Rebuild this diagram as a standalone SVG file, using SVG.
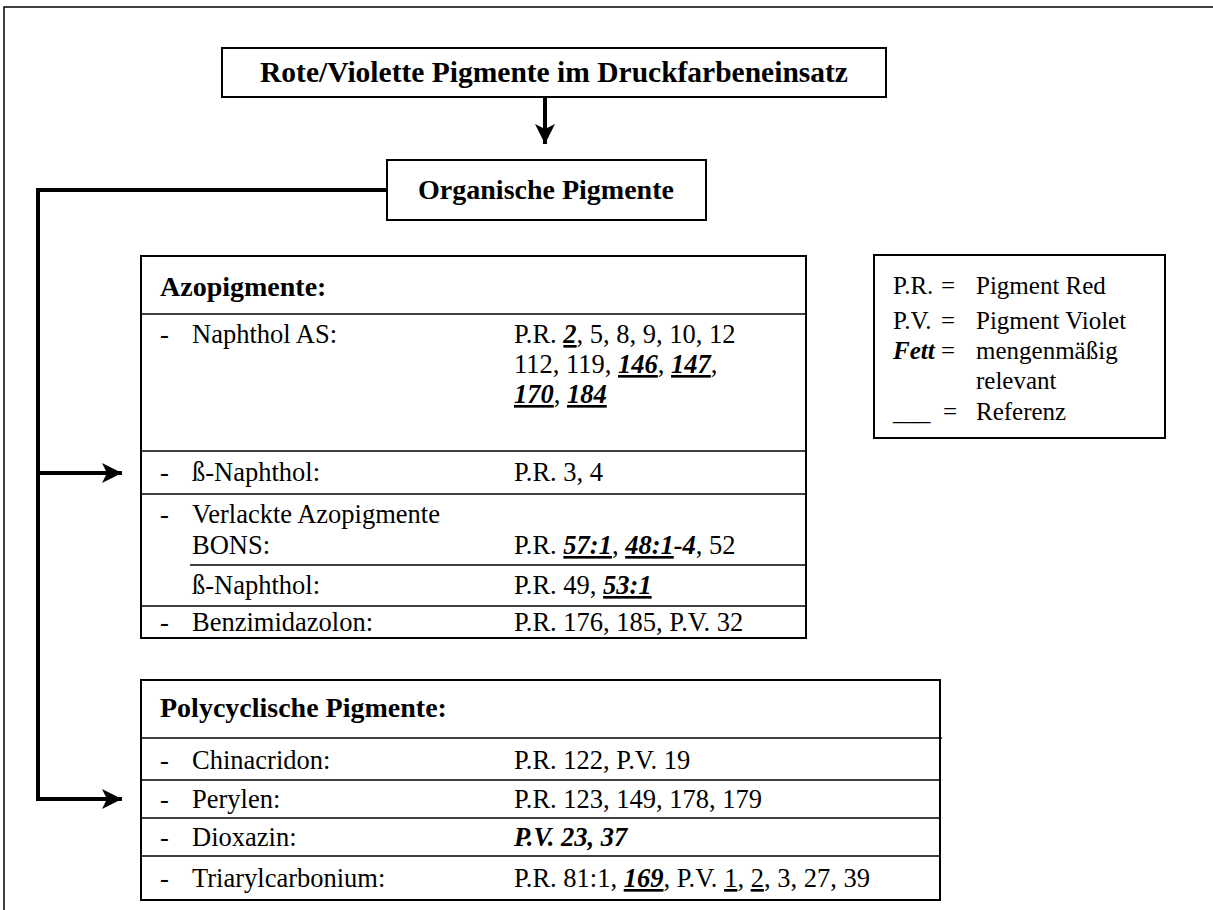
<svg xmlns="http://www.w3.org/2000/svg" width="1213" height="910" viewBox="0 0 1213 910">
  <style>
    .box { fill: #fff; stroke: #000; stroke-width: 2; }
    .rule { stroke: #000; stroke-width: 1.5; fill: none; }
    .link { stroke: #000; stroke-width: 4; fill: none; }
    text { font-family: "Liberation Serif", "Times New Roman", serif; fill: #000; }
    .t { font-size: 26.5px; }
    .h { font-size: 28px; font-weight: bold; }
    .title { font-size: 29.5px; font-weight: bold; }
    .lg { font-size: 25px; }
    .bi { font-weight: bold; font-style: italic; }
    .u { text-decoration: underline; }
  </style>
  <defs>
    <marker id="head" markerUnits="userSpaceOnUse" markerWidth="22" markerHeight="22" viewBox="-21 -11 22 22" refX="0" refY="0" orient="auto">
      <path d="M0,0 L-20,-10 L-15,0 L-20,10 Z" fill="#000"/>
    </marker>
  </defs>

  <rect width="1213" height="910" fill="#fff"/>

  <!-- page frame -->
  <path class="rule" d="M4,910 V7 H1213"/>

  <!-- connectors -->
  <g id="connectors">
    <path class="link" d="M545,97 V144" marker-end="url(#head)"/>
    <path class="link" d="M387,190 H38 V799 H122" marker-end="url(#head)"/>
    <path class="link" d="M38,473 H122" marker-end="url(#head)"/>
  </g>

  <!-- top heading -->
  <g id="root">
    <rect class="box" x="222" y="48" width="664" height="49"/>
    <text class="title" x="554" y="82" text-anchor="middle">Rote/Violette Pigmente im Druckfarbeneinsatz</text>
  </g>

  <g id="organic">
    <rect class="box" x="387" y="160" width="319" height="60"/>
    <text class="h" x="546" y="199" text-anchor="middle">Organische Pigmente</text>
  </g>

  <!-- azo pigment table -->
  <g id="azo">
    <rect class="box" x="141" y="256" width="665" height="382"/>
    <line class="rule" x1="141" y1="314" x2="806" y2="314"/>
    <line class="rule" x1="141" y1="451" x2="806" y2="451"/>
    <line class="rule" x1="141" y1="494" x2="806" y2="494"/>
    <line class="rule" x1="190" y1="565" x2="806" y2="565"/>
    <line class="rule" x1="141" y1="606" x2="806" y2="606"/>

    <text class="h" x="160" y="296">Azopigmente:</text>

    <text class="t" x="160" y="343">-</text>
    <text class="t" x="192" y="343">Naphthol AS:</text>
    <text class="t" x="514" y="343">P.R. <tspan class="bi u">2</tspan>, 5, 8, 9, 10, 12</text>
    <text class="t" x="514" y="373">112, 119, <tspan class="bi u">146</tspan>, <tspan class="bi u">147</tspan>,</text>
    <text class="t" x="514" y="403"><tspan class="bi u">170</tspan>, <tspan class="bi u">184</tspan></text>

    <text class="t" x="160" y="481">-</text>
    <text class="t" x="192" y="481">ß-Naphthol:</text>
    <text class="t" x="514" y="481">P.R. 3, 4</text>

    <text class="t" x="160" y="523">-</text>
    <text class="t" x="192" y="523">Verlackte Azopigmente</text>
    <text class="t" x="192" y="554">BONS:</text>
    <text class="t" x="514" y="554">P.R. <tspan class="bi u">57:1</tspan>, <tspan class="bi u">48:1</tspan><tspan class="bi">-4</tspan>, 52</text>
    <text class="t" x="192" y="594">ß-Naphthol:</text>
    <text class="t" x="514" y="594">P.R. 49, <tspan class="bi u">53:1</tspan></text>

    <text class="t" x="160" y="631">-</text>
    <text class="t" x="192" y="631">Benzimidazolon:</text>
    <text class="t" x="514" y="631">P.R. 176, 185, P.V. 32</text>
  </g>

  <!-- legend -->
  <g id="legend">
    <rect class="box" x="874" y="255" width="291" height="183"/>
    <text class="lg" x="893" y="294">P.R.</text>
    <text class="lg" x="941" y="294">=</text>
    <text class="lg" x="976" y="294">Pigment Red</text>
    <text class="lg" x="893" y="329">P.V.</text>
    <text class="lg" x="941" y="329">=</text>
    <text class="lg" x="976" y="329">Pigment Violet</text>
    <text class="lg bi" x="893" y="359">Fett</text>
    <text class="lg" x="941" y="359">=</text>
    <text class="lg" x="976" y="359">mengenmäßig</text>
    <text class="lg" x="976" y="389">relevant</text>
    <text class="lg" x="893" y="420">___</text>
    <text class="lg" x="943" y="420">=</text>
    <text class="lg" x="976" y="420">Referenz</text>
  </g>

  <!-- polycyclic pigment table -->
  <g id="polycyclic">
    <rect class="box" x="141" y="680" width="799" height="220"/>
    <line class="rule" x1="141" y1="738" x2="942" y2="738"/>
    <line class="rule" x1="141" y1="780" x2="940" y2="780"/>
    <line class="rule" x1="141" y1="818" x2="940" y2="818"/>
    <line class="rule" x1="141" y1="856" x2="940" y2="856"/>

    <text class="h" x="160" y="717">Polycyclische Pigmente:</text>

    <text class="t" x="160" y="769">-</text>
    <text class="t" x="192" y="769">Chinacridon:</text>
    <text class="t" x="514" y="769">P.R. 122, P.V. 19</text>

    <text class="t" x="160" y="808">-</text>
    <text class="t" x="192" y="808">Perylen:</text>
    <text class="t" x="514" y="808">P.R. 123, 149, 178, 179</text>

    <text class="t" x="160" y="846">-</text>
    <text class="t" x="192" y="846">Dioxazin:</text>
    <text class="t bi" x="514" y="846">P.V. 23, 37</text>

    <text class="t" x="160" y="887">-</text>
    <text class="t" x="192" y="887">Triarylcarbonium:</text>
    <text class="t" x="514" y="887">P.R. 81:1, <tspan class="bi u">169</tspan>, P.V. <tspan class="u">1</tspan>, <tspan class="u">2</tspan>, 3, 27, 39</text>
  </g>
</svg>
